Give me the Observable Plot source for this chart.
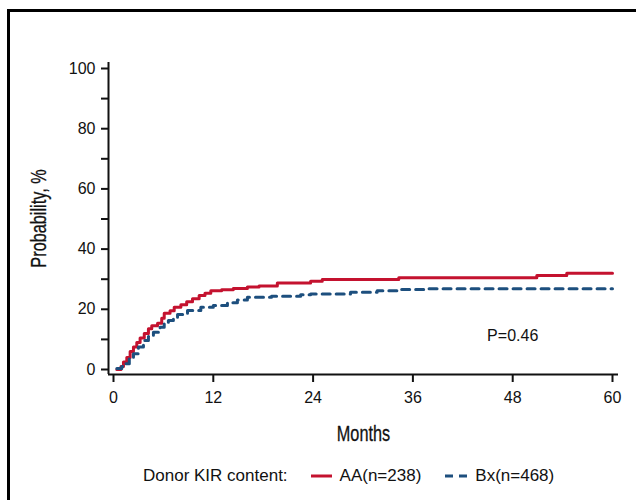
<!DOCTYPE html>
<html>
<head>
<meta charset="utf-8">
<script src="https://cdn.jsdelivr.net/npm/d3@7"></script>
<script src="https://cdn.jsdelivr.net/npm/@observablehq/plot@0.6"></script>
<style>
  body { margin: 0; background: #fff; }
  #wrap { position: relative; width: 636px; height: 500px; overflow: hidden; background: #fff; font-family: "Liberation Sans", Arial, sans-serif; }
  #frame { position: absolute; left: 7px; top: 9px; width: 800px; height: 800px; border-top: 3px solid #000; border-left: 3px solid #000; }
  #chart { position: absolute; left: 0; top: 0; }
  #legend { position: absolute; top: 466px; left: 143px; display: flex; align-items: center; font-size: 17px; color: #111; white-space: nowrap; }
  #legend svg { display: block; }
</style>
</head>
<body>
<div id="wrap">
  <div id="frame"></div>
  <div id="chart"></div>
  <div id="legend">
    <span>Donor KIR content:</span>
    <svg width="21" height="6" style="margin-left:23px"><line x1="0" y1="3" x2="21" y2="3" stroke="#c4122f" stroke-width="3"/></svg>
    <span style="margin-left:8px">AA(n=238)</span>
    <svg width="22" height="6" style="margin-left:24px"><line x1="0" y1="3" x2="22" y2="3" stroke="#1d4f7e" stroke-width="3" stroke-dasharray="8,6"/></svg>
    <span style="margin-left:8px">Bx(n=468)</span>
  </div>
</div>
<script>
// Donor KIR AA (n=238): cumulative probability (%) by month
const aaMonths = [0.4, 0.9, 1.2, 1.6, 2.0, 2.4, 2.8, 3.2, 3.7, 4.2, 4.6, 5.3, 5.8, 6.1, 6.8, 7.3, 8.1, 8.8, 9.5, 10.3, 11.0, 11.7, 13.0, 14.4, 16.1, 17.5, 19.7, 23.7, 25.1, 34.3, 50.9, 54.5, 60];
const aaProb   = [0,   1.0, 2.5, 4.0, 6.0, 7.5, 9.0, 10.5, 12.0, 13.5, 14.5, 15.4, 17.0, 18.7, 19.5, 20.7, 21.5, 22.5, 23.5, 24.6, 25.3, 26.2, 26.5, 26.9, 27.4, 27.7, 28.7, 29.3, 29.9, 30.5, 31.2, 32.0, 32.0];
// Donor KIR Bx (n=468)
const bxMonths = [0.4, 1.0, 1.4, 1.9, 2.4, 3.0, 3.6, 4.2, 4.8, 5.6, 6.1, 6.6, 7.2, 7.7, 8.9, 10.5, 12.0, 13.7, 14.9, 16.1, 19.0, 22.5, 23.7, 28.5, 31.7, 34.5, 37.3, 60];
const bxProb   = [0.3, 1.0, 1.9, 3.5, 5.2, 7.5, 9.6, 11.0, 12.4, 14.0, 15.2, 16.3, 17.3, 18.3, 19.6, 20.7, 21.3, 22.2, 23.1, 24.0, 24.3, 24.8, 25.1, 25.7, 26.2, 26.6, 26.8, 26.8];

const xTicks = [0, 12, 24, 36, 48, 60];
const yTicks = [0, 10, 20, 30, 40, 50, 60, 70, 80, 90, 100];
const yLabelled = [0, 20, 40, 60, 80, 100];
const pText = "P=0.46";
const pX = 48, pY = 11.3;
const yTitle = "Probability, %";
const xTitle = "Months";

const aa = aaMonths.map((m, i) => ({month: m, prob: aaProb[i]}));
const bx = bxMonths.map((m, i) => ({month: m, prob: bxProb[i]}));

const titleFont = "'Liberation Sans', Arial, sans-serif";

const plot = Plot.plot({
  width: 636,
  height: 450,
  marginLeft: 108,
  marginRight: 18,
  marginTop: 62,
  marginBottom: 76,
  style: {fontFamily: "'Liberation Sans', Arial, sans-serif", fontSize: "16px", color: "#111", background: "transparent"},
  x: {domain: [0, 60], insetLeft: 5, insetRight: 6},
  y: {domain: [0, 100], insetBottom: 5, insetTop: 6},
  marks: [
    Plot.ruleX([0], {dx: -5, stroke: "#111", strokeWidth: 2}),
    Plot.ruleY([0], {dy: 5, stroke: "#111", strokeWidth: 2}),
    Plot.axisX({ticks: xTicks, tickSize: 8, tickPadding: 9, label: null, strokeWidth: 2, fontSize: 16}),
    Plot.axisY({ticks: yTicks, tickSize: 7, tickPadding: 6, label: null, strokeWidth: 2, fontSize: 16,
      tickFormat: d => yLabelled.includes(d) ? String(d) : ""}),
    Plot.line(aa, {x: "month", y: "prob", curve: "step-after", stroke: "#c4122f", strokeWidth: 3}),
    Plot.line(bx, {x: "month", y: "prob", curve: "step-after", stroke: "#1d4f7e", strokeWidth: 3, strokeDasharray: "8,6"}),
    Plot.text([pText], {x: pX, y: pY, text: d => d, fontSize: 16, fill: "#111"}),
    Plot.text([yTitle], {frameAnchor: "left", dx: -70, rotate: -90, textAnchor: "middle", fontSize: 22, fontFamily: titleFont, fill: "#111", stroke: "#111", strokeWidth: 0.3, ariaDescription: "condensed-title"}),
    Plot.text([xTitle], {frameAnchor: "bottom", dy: 66, rotate: 0, fontSize: 22, fontFamily: titleFont, fill: "#111", stroke: "#111", strokeWidth: 0.3, ariaDescription: "condensed-title"})
  ]
});
document.getElementById("chart").appendChild(plot);
// condense the axis titles horizontally (mimic a narrow typeface)
d3.select(plot).selectAll('g[aria-description="condensed-title"] text').each(function() {
  const t = d3.select(this);
  const x = +t.attr("x") || 0, y = +t.attr("y") || 0;
  const tr = t.attr("transform") || "";
  if (x || y) { t.attr("x", null).attr("y", null).attr("transform", `translate(${x},${y}) ${tr} scale(0.74,1)`); }
  else { t.attr("transform", `${tr} scale(0.74,1)`); }
});
</script>
</body>
</html>
